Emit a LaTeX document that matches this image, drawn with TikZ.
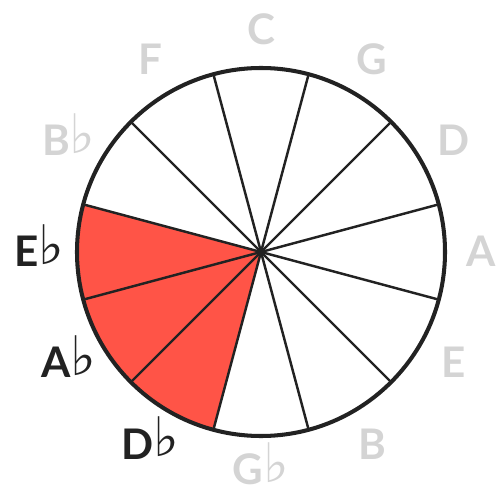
\documentclass[tikz,border=0pt]{standalone}
\usepackage{fontspec}
\setmainfont{Lato}
\newfontfamily\symfont{DejaVu Sans}
\definecolor{ink}{HTML}{222222}
\definecolor{keygray}{HTML}{D4D4D4}
\definecolor{hot}{HTML}{FF5447}
\newcommand{\flt}{\raisebox{1.5pt}{\symfont\fontsize{31}{32}\selectfont ♭}}

\begin{document}
\begin{tikzpicture}[
wheel/.style={draw=ink, line width=2.3pt},
spoke/.style={draw=ink, line width=1.4pt},
keyname/.style={inner sep=0pt, text height=17pt, text depth=0pt,
  font=\fontsize{24}{28}\selectfont\bfseries},
keyoff/.style={keyname, text=keygray},
keyon/.style={keyname, text=ink}
]
\useasboundingbox (-5.22,-4.78) rectangle (4.78,5.04);
\coordinate (o) at (0,0);
% highlighted keys
\fill[hot] (o) -- (165:3.68) arc (165:255:3.68) -- cycle;
\foreach \a in {15,45,...,345}
  \draw[spoke] (o) -- (\a:3.68);
\draw[wheel] (o) circle (3.68);
% key names
\foreach \n/\a/\r/\t/\s in {C/90/4.44/C/keyoff, G/60/4.44/G/keyoff,
    D/30/4.44/D/keyoff, A/0/4.40/A/keyoff, E/-30/4.44/E/keyoff,
    B/-60/4.44/B/keyoff, Gb/-90/4.36/G\flt/keyoff,
    Db/-120/4.44/D\flt/keyon, Ab/-150/4.44/A\flt/keyon,
    Eb/180/4.44/E\flt/keyon, Bb/150/4.44/B\flt/keyoff, F/120/4.44/F/keyoff}
  \node[style=\s] (\n) at (\a:\r) {\t};
\end{tikzpicture}
\end{document}
